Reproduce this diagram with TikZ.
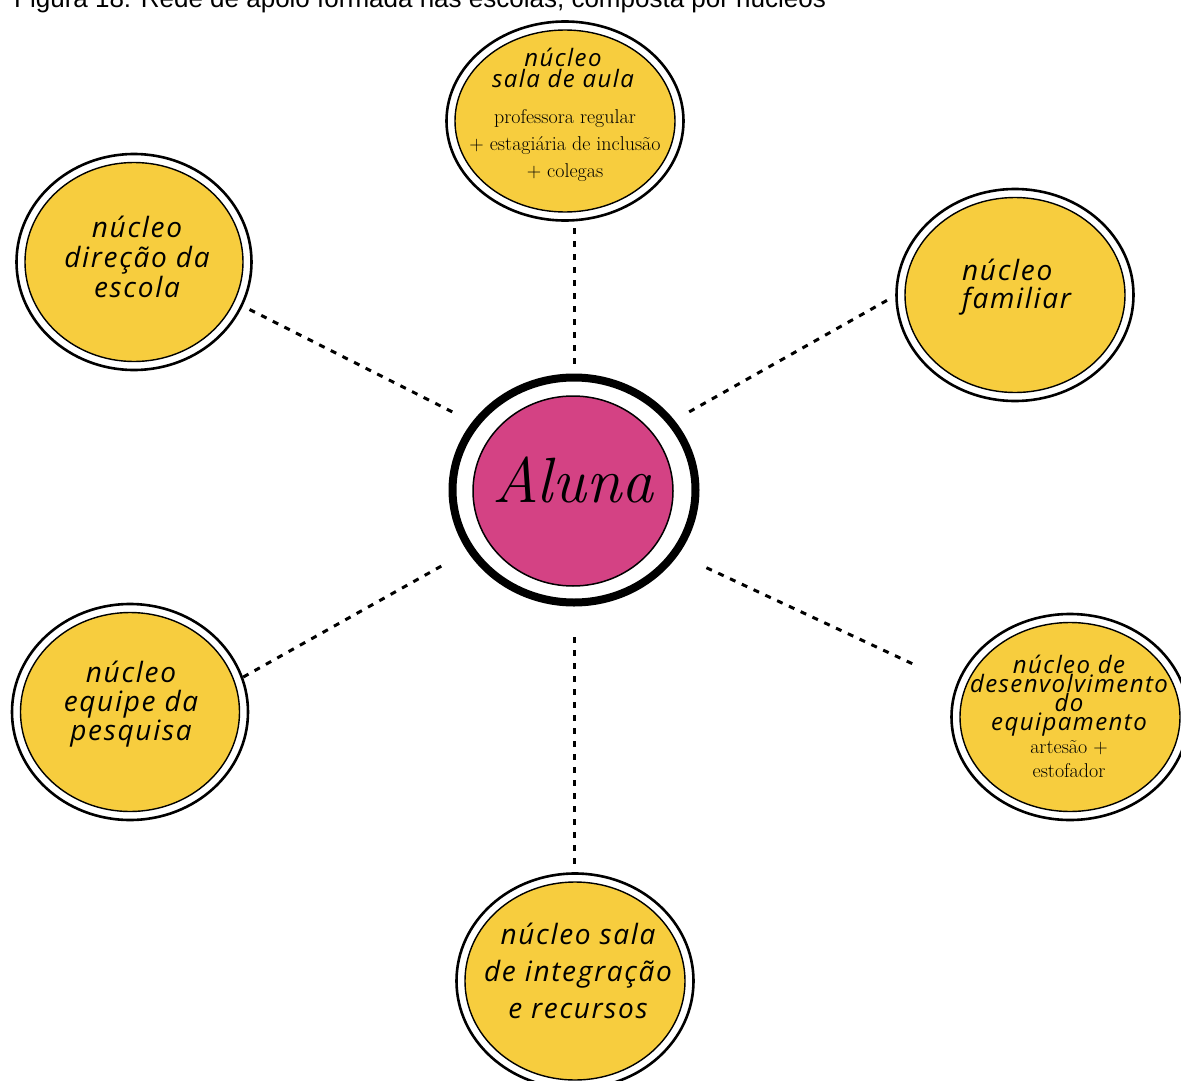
\documentclass[tikz,border=0pt]{standalone}
\usepackage{fontspec}
\usetikzlibrary{shapes.geometric}
\newfontfamily\handfont{Open Sans}[LetterSpace=6]
\newfontfamily\capfont{Liberation Sans}
\definecolor{nucleo}{RGB}{247,205,62}
\definecolor{rosa}{RGB}{212,66,132}

\tikzstyle{outer ring}=[ellipse,draw=black,fill=white,line width=2.6pt,inner sep=0pt,outer sep=0pt]
\tikzstyle{inner disc}=[ellipse,draw=black,fill=nucleo,line width=1.4pt,inner sep=0pt,outer sep=0pt]
\tikzstyle{dotted link}=[draw,line width=3pt,dash pattern=on 6pt off 7pt]
\tikzstyle{subtext}=[font=\fontsize{20}{27}\selectfont,align=center,inner sep=0pt]
\tikzset{hand/.style 2 args={font=\handfont\itshape\fontsize{#1}{#2}\selectfont,align=center,inner sep=0pt}}

\begin{document}
\begin{tikzpicture}[x=1pt,y=-1pt]
			\useasboundingbox (0,0) rectangle (1181,1081);
			\clip (0,0) rectangle (1181,1081);
			\node[anchor=base west,inner sep=0pt,font=\capfont\fontsize{26}{30}\selectfont] (titulo) at (14,7.5)
				{Figura 18: Rede de apoio formada nas escolas, composta por núcleos};
			% centre: the pupil
			\node[ellipse,draw=black,fill=white,line width=8pt,inner sep=0pt,outer sep=0pt,
				minimum width=243pt,minimum height=225pt] (aluna) at (574,490) {};
			\node[ellipse,draw=black,fill=rosa,line width=1.5pt,inner sep=0pt,
				minimum width=200pt,minimum height=190pt] (aluna-in) at (573,491) {};
			\node[anchor=base,inner sep=0pt,font=\itshape\fontsize{64}{70}\selectfont] at (573,502) {Aluna};
			% the six support groups
			\node[outer ring,minimum width=237pt,minimum height=199pt] (sala) at (565,121) {};
			\node[inner disc,minimum width=220pt,minimum height=182pt] (sala-in) at (sala) {};
			\node[outer ring,minimum width=235pt,minimum height=216pt] (dir) at (134,262) {};
			\node[inner disc,minimum width=218pt,minimum height=199pt] (dir-in) at (dir) {};
			\node[outer ring,minimum width=237pt,minimum height=212pt] (fam) at (1015,295) {};
			\node[inner disc,minimum width=220pt,minimum height=195pt] (fam-in) at (fam) {};
			\node[outer ring,minimum width=236pt,minimum height=216pt] (equipe) at (130,712) {};
			\node[inner disc,minimum width=219pt,minimum height=199pt] (equipe-in) at (equipe) {};
			\node[outer ring,minimum width=237pt,minimum height=215pt] (integ) at (575,981) {};
			\node[inner disc,minimum width=220pt,minimum height=198pt] (integ-in) at (integ) {};
			\node[outer ring,minimum width=237pt,minimum height=206pt] (desenv) at (1070,717) {};
			\node[inner disc,minimum width=220pt,minimum height=189pt] (desenv-in) at (desenv) {};
			% their labels (base = last line)
			\node[hand={24}{21},anchor=base] (sala-txt) at (563,88) {núcleo\\sala de aula};
			\node[subtext,anchor=base] (sala-sub) at (565,177) {professora regular\\+ estagiária de inclusão\\+ colegas};
			\node[hand={28}{30},anchor=base] (dir-txt) at (137,297) {núcleo\\direção da\\escola};
			\node[hand={28}{28},anchor=base west,align=left] (fam-txt) at (962,308) {núcleo\\familiar};
			\node[hand={28}{29},anchor=base] (equipe-txt) at (131,740) {núcleo\\equipe da\\pesquisa};
			\node[hand={28}{37},anchor=base] (integ-txt) at (578,1018) {núcleo sala\\de integração\\e recursos};
			\node[hand={24}{19},anchor=base] (desenv-txt) at (1069,730) {núcleo de\\desenvolvimento\\do\\equipamento};
			\node[subtext,font=\fontsize{20}{24}\selectfont,anchor=base] (desenv-sub) at (1069,777) {artesão +\\estofador};
			% dashed links to the centre
			\path[dotted link,shorten <=7.5pt,shorten >=7.5pt] (sala.south -| aluna.north) -- (aluna.north);
			\path[dotted link,shorten <=9pt,shorten >=23pt] (dir.-22) -- (aluna.146);
			\path[dotted link,shorten <=21pt,shorten >=6pt] (aluna.35) -- (fam.180);
			\path[dotted link,shorten <=1.5pt,shorten >=31pt] (equipe.17) -- (aluna.210);
			\path[dotted link,shorten <=35pt,shorten >=47pt] (aluna.-32) -- (desenv.164);
			\path[dotted link,shorten <=34.5pt,shorten >=5.5pt] (aluna.south) -- (integ.north -| aluna.south);
\end{tikzpicture}
\end{document}
